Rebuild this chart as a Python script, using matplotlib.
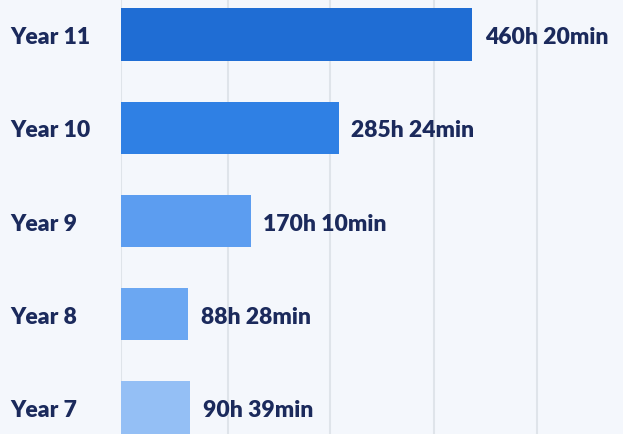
import matplotlib.pyplot as plt
from matplotlib.transforms import blended_transform_factory, offset_copy

years = ["Year 7", "Year 8", "Year 9", "Year 10", "Year 11"]
hours = [90 + 39 / 60, 88 + 28 / 60, 170 + 10 / 60, 285 + 24 / 60, 460 + 20 / 60]
labels = ["90h 39min", "88h 28min", "170h 10min", "285h 24min", "460h 20min"]
colors = ["#94bff5", "#6ba7f2", "#5c9df0", "#2f80e4", "#1f6dd4"]

plt.rcParams["font.family"] = ["Lato", "DejaVu Sans"]
navy = "#1b2a5c"

fig = plt.figure(figsize=(6.23, 4.35), dpi=100)
fig.patch.set_facecolor("#f4f7fc")
ax = fig.add_axes([121 / 623, 0, 1 - 121 / 623, 1])
ax.set_facecolor("#f4f7fc")

pos = list(range(len(years)))
ax.barh(pos, hours, height=0.56, color=colors, zorder=2)
for p, h, lab in zip(pos, hours, labels):
    ax.annotate(lab, (h, p), xytext=(9, -1.5), textcoords="offset points",
                va="center", ha="left", fontsize=16.5, fontweight="heavy",
                color=navy, zorder=3)

# year labels sit at the left edge of the figure
trans = blended_transform_factory(fig.transFigure, ax.transData)
trans = offset_copy(trans, fig=fig, y=-1.5, units="points")
for p, y in zip(pos, years):
    ax.text(10 / 623, p, y, transform=trans, va="center", ha="left",
            fontsize=16.5, fontweight="heavy", color=navy, clip_on=False)

ax.set_xlim(0, 658)
ax.set_ylim(-0.285, 4.38)
ax.set_xticks([0, 140, 274, 410, 545])
ax.xaxis.grid(True, color="#dfe4ea", linewidth=1.5, zorder=0)
ax.set_yticks([])
ax.tick_params(axis="x", length=0, labelbottom=False)
for s in ax.spines.values():
    s.set_visible(False)

fig.savefig("out.png", dpi=100, facecolor=fig.get_facecolor())
